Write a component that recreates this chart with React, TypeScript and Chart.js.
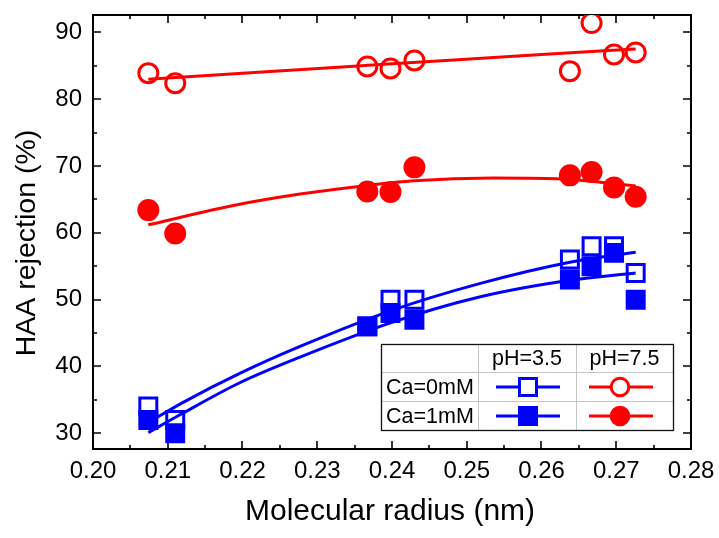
import { useEffect, useRef } from 'react';
import { Chart, registerables } from 'chart.js';

Chart.register(...registerables);

// ---- data ----
const radius = [0.2074, 0.211, 0.2367, 0.2398, 0.243, 0.2638, 0.2667, 0.2697, 0.2726];
const ph35Ca0 = [34, 32, 46, 50, 50, 56, 58, 58, 54];
const ph35Ca1 = [32, 30, 46, 48, 47, 53, 55, 57, 50];
const ph75Ca0 = [83.9, 82.4, 84.9, 84.6, 85.8, 84.2, 91.4, 86.7, 87.0];
const ph75Ca1 = [63.4, 59.9, 66.2, 66.1, 69.8, 68.6, 69.1, 66.8, 65.4];

const fitBlueX = [0.2074, 0.212, 0.2197, 0.2277, 0.24, 0.2517, 0.2638, 0.2726];
const fitBlueUpper = [31.6, 34.6, 39.0, 43.0, 48.4, 52.4, 55.6, 57.1];
const fitBlueLower = [30.1, 33.0, 37.6, 41.4, 46.6, 50.4, 52.9, 54.0];
const fitRedOpenX = [0.2074, 0.22, 0.24, 0.26, 0.2726];
const fitRedOpen = [83.0, 83.9, 85.3, 86.7, 87.5];
const fitRedFilledX = [0.2074, 0.2188, 0.2277, 0.2367, 0.243, 0.2535, 0.2638, 0.2726];
const fitRedFilled = [61.2, 64.1, 65.8, 67.1, 67.8, 68.2, 68.0, 67.0];

const xTicks = [0.2, 0.21, 0.22, 0.23, 0.24, 0.25, 0.26, 0.27, 0.28];
const xMinorTicks = [0.205, 0.215, 0.225, 0.235, 0.245, 0.255, 0.265, 0.275];
const yTicks = [30, 40, 50, 60, 70, 80, 90];
const yMinorTicks = [35, 45, 55, 65, 75, 85];

const xTitle = 'Molecular radius (nm)';
const yTitle = 'HAA rejection (%)';
const legendCols = ['pH=3.5', 'pH=7.5'];
const legendRows = ['Ca=0mM', 'Ca=1mM'];

const BLUE = '#0000ff';
const RED = '#ff0000';
const FONT = "'Liberation Sans', Arial, sans-serif";

const pts = (xs: number[], ys: number[]) => xs.map((x, i) => ({ x, y: ys[i] }));

const framePlugin = {
  id: 'frame',
  beforeDatasetsDraw(chart: any) {
    const { ctx, chartArea } = chart;
    const { left, right, top, bottom } = chartArea;
    const xs = chart.scales.x;
    const ys = chart.scales.y;
    ctx.save();
    ctx.strokeStyle = '#000';
    ctx.lineWidth = 1.6;
    ctx.beginPath();
    const tickX = (v: number, len: number) => {
      const p = Math.round(xs.getPixelForValue(v));
      ctx.moveTo(p, bottom);
      ctx.lineTo(p, bottom - len);
      ctx.moveTo(p, top);
      ctx.lineTo(p, top + len);
    };
    const tickY = (v: number, len: number) => {
      const p = Math.round(ys.getPixelForValue(v));
      ctx.moveTo(left, p);
      ctx.lineTo(left + len, p);
      ctx.moveTo(right, p);
      ctx.lineTo(right - len, p);
    };
    xTicks.forEach((v) => tickX(v, 8));
    xMinorTicks.forEach((v) => tickX(v, 4));
    yTicks.forEach((v) => tickY(v, 8));
    yMinorTicks.forEach((v) => tickY(v, 4));
    ctx.stroke();
    ctx.lineWidth = 2;
    ctx.strokeRect(left, top, right - left, bottom - top);
    ctx.restore();
  },
  afterDraw(chart: any) {
    const { ctx, chartArea } = chart;
    ctx.save();
    // axis titles
    ctx.fillStyle = '#000';
    ctx.textAlign = 'center';
    ctx.textBaseline = 'alphabetic';
    ctx.font = `30px ${FONT}`;
    ctx.fillText(xTitle, (chartArea.left + chartArea.right) / 2 - 2, 520);
    ctx.font = `28.5px ${FONT}`;
    ctx.save();
    ctx.translate(35, 243);
    ctx.rotate(-Math.PI / 2);
    ctx.fillText(yTitle, 0, 0);
    ctx.restore();

    // legend table
    const x0 = 381, x1 = 673, y0 = 344, y1 = 430;
    const c1 = 478, c2 = 576, r1 = 372, r2 = 401;
    ctx.fillStyle = '#fff';
    ctx.fillRect(x0, y0, x1 - x0, y1 - y0);
    ctx.strokeStyle = '#c4c4c4';
    ctx.lineWidth = 1;
    ctx.beginPath();
    ctx.moveTo(c1 + 0.5, y0); ctx.lineTo(c1 + 0.5, y1);
    ctx.moveTo(c2 + 0.5, y0); ctx.lineTo(c2 + 0.5, y1);
    ctx.moveTo(x0, r1 + 0.5); ctx.lineTo(x1, r1 + 0.5);
    ctx.moveTo(x0, r2 + 0.5); ctx.lineTo(x1, r2 + 0.5);
    ctx.stroke();
    ctx.strokeStyle = '#111';
    ctx.lineWidth = 1.3;
    ctx.strokeRect(x0 + 0.5, y0 + 0.5, x1 - x0, y1 - y0);

    ctx.fillStyle = '#000';
    ctx.font = `21.5px ${FONT}`;
    ctx.textAlign = 'center';
    ctx.fillText(legendCols[0], (c1 + c2) / 2, 365);
    ctx.fillText(legendCols[1], (c2 + x1) / 2, 365);
    ctx.textAlign = 'left';
    ctx.fillText(legendRows[0], 386, 394);
    ctx.fillText(legendRows[1], 386, 423);

    const rowY = [387, 416];
    const drawLine = (xa: number, xb: number, y: number, color: string) => {
      ctx.strokeStyle = color;
      ctx.lineWidth = 3;
      ctx.beginPath();
      ctx.moveTo(xa, y);
      ctx.lineTo(xb, y);
      ctx.stroke();
    };
    // pH=3.5 squares
    rowY.forEach((y, i) => {
      drawLine(496, 560, y, BLUE);
      ctx.fillStyle = i === 0 ? '#fff' : BLUE;
      ctx.fillRect(519.5, y - 8.5, 17, 17);
      ctx.strokeStyle = BLUE;
      ctx.lineWidth = 3;
      ctx.strokeRect(519.5, y - 8.5, 17, 17);
    });
    // pH=7.5 circles
    rowY.forEach((y, i) => {
      drawLine(589, 653, y, RED);
      ctx.beginPath();
      ctx.arc(620, y, 8.8, 0, Math.PI * 2);
      ctx.fillStyle = i === 0 ? '#fff' : RED;
      ctx.fill();
      ctx.strokeStyle = RED;
      ctx.lineWidth = 3;
      ctx.stroke();
    });
    ctx.restore();
  },
};

export default function App() {
  const ref = useRef<HTMLCanvasElement>(null);

  useEffect(() => {
    if (!ref.current) return;
    const lineDs = (data: any[], color: string) => ({
      type: 'scatter' as const,
      data,
      showLine: true,
      borderColor: color,
      backgroundColor: color,
      borderWidth: 3,
      pointRadius: 0,
      cubicInterpolationMode: 'monotone' as const,
      order: 0,
    });
    const chart = new Chart(ref.current, {
      type: 'scatter',
      data: {
        datasets: [
          lineDs(pts(fitBlueX, fitBlueUpper), BLUE),
          lineDs(pts(fitBlueX, fitBlueLower), BLUE),
          lineDs(pts(fitRedOpenX, fitRedOpen), RED),
          lineDs(pts(fitRedFilledX, fitRedFilled), RED),
          {
            data: pts(radius, ph35Ca1),
            pointStyle: 'rect',
            pointRadius: 12,
            borderWidth: 3,
            borderColor: BLUE,
            backgroundColor: BLUE,
            order: 1,
          },
          {
            data: pts(radius, ph35Ca0),
            pointStyle: 'rect',
            pointRadius: 12,
            borderWidth: 3,
            borderColor: BLUE,
            backgroundColor: '#fff',
            order: 2,
          },
          {
            data: pts(radius, ph75Ca1),
            pointStyle: 'circle',
            pointRadius: 9.5,
            borderWidth: 3,
            borderColor: RED,
            backgroundColor: RED,
            order: 1,
          },
          {
            data: pts(radius, ph75Ca0),
            pointStyle: 'circle',
            pointRadius: 9.5,
            borderWidth: 3,
            borderColor: RED,
            backgroundColor: '#fff',
            order: 2,
          },
        ],
      },
      options: {
        animation: false,
        responsive: false,
        devicePixelRatio: 1,
        layout: { padding: { top: 9, right: 28, left: 0, bottom: 0 } },
        plugins: { legend: { display: false }, tooltip: { enabled: false } },
        scales: {
          x: {
            type: 'linear',
            min: 0.2,
            max: 0.28,
            afterBuildTicks: (s: any) => {
              s.ticks = xTicks.map((v) => ({ value: v }));
            },
            afterFit: (s: any) => {
              s.height = 89;
              s.paddingLeft = 0;
              s.paddingRight = 0;
            },
            grid: { display: false, drawTicks: false },
            border: { display: false },
            ticks: {
              color: '#000',
              font: { family: FONT, size: 24 },
              padding: 8,
              maxRotation: 0,
              autoSkip: false,
              callback: (v: any) => Number(v).toFixed(2),
            },
          },
          y: {
            type: 'linear',
            min: 27.65,
            max: 92.6,
            afterBuildTicks: (s: any) => {
              s.ticks = yTicks.map((v) => ({ value: v }));
            },
            afterFit: (s: any) => {
              s.width = 93;
              s.paddingTop = 0;
              s.paddingBottom = 0;
            },
            grid: { display: false, drawTicks: false },
            border: { display: false },
            ticks: {
              color: '#000',
              font: { family: FONT, size: 24 },
              padding: 11,
              autoSkip: false,
              callback: (v: any) => String(v),
            },
          },
        },
      },
      plugins: [framePlugin],
    } as any);
    return () => chart.destroy();
  }, []);

  return (
    <div style={{ position: 'absolute', left: 0, top: 0, width: 719, height: 538, background: '#fff' }}>
      <canvas ref={ref} width={719} height={538} style={{ display: 'block' }} />
    </div>
  );
}
